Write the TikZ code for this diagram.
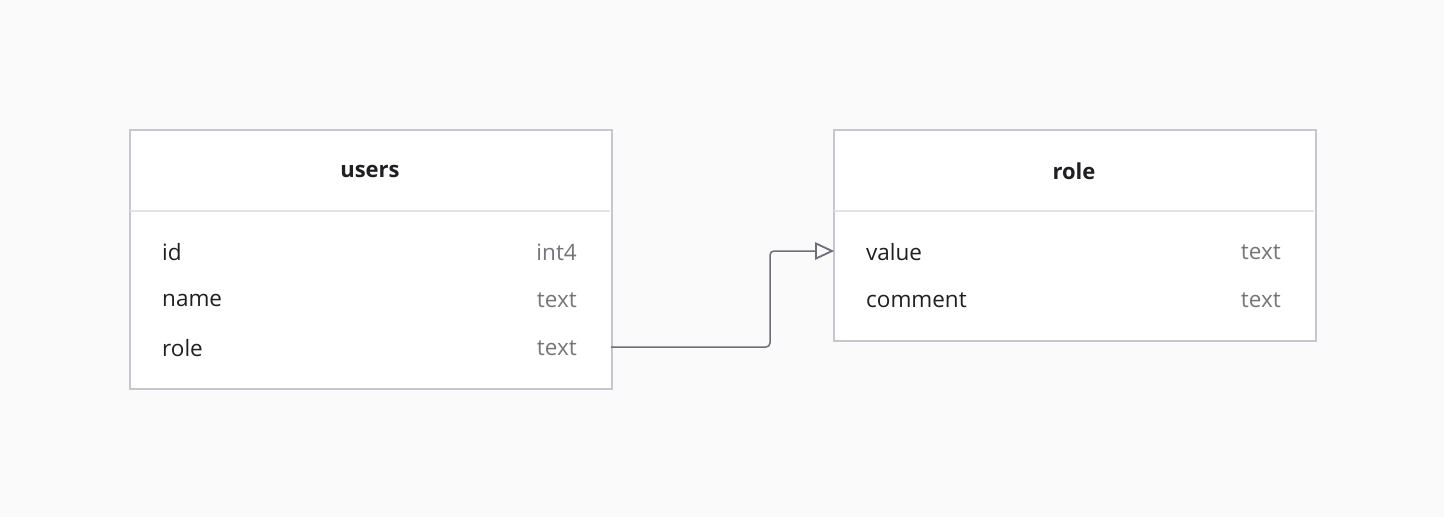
\documentclass[tikz,border=0pt]{standalone}
\usepackage{fontspec}
\setmainfont{Open Sans}
\usetikzlibrary{arrows.meta,calc}
\definecolor{bg}{HTML}{FAFAFA}
\definecolor{bordc}{HTML}{C6C6CE}
\definecolor{divc}{HTML}{E2E2E8}
\definecolor{txt}{HTML}{1F1F24}
\definecolor{typec}{HTML}{75757E}
\definecolor{linec}{HTML}{6E6E78}
\begin{document}
\begin{tikzpicture}[x=1pt,y=-1pt,
  tbl/.style={draw=bordc,line width=1.5pt,fill=white},
  divl/.style={draw=divc,line width=1.2pt},
  title/.style={font=\fontsize{22}{26}\selectfont\bfseries,text=txt,inner sep=0},
  fld/.style={font=\fontsize{22.5}{26}\selectfont,text=txt,anchor=west,inner sep=0},
  typ/.style={font=\fontsize{22.5}{26}\selectfont,text=typec,anchor=east,inner sep=0},
  conn/.style={draw=linec,line width=1.5pt,rounded corners=4pt},
  head/.style={draw=linec,line width=1.8pt,fill=bg,line join=miter}]
\fill[bg] (0,0) rectangle (1444,517);
\useasboundingbox (0,0) rectangle (1444,517);
% users table
\node[tbl,minimum width=482pt,minimum height=259pt,anchor=north west,inner sep=0] (users) at (129,129) {};
\draw[divl] (130,211) -- (610,211);
\node[title] (usersT) at (370,171) {users};
\node[fld] (uid) at (162,252) {id};
\node[typ] (uidt) at (577,252) {int4};
\node[fld] (uname) at (162,300) {name};
\node[typ] (unamet) at (577,300) {text};
\node[fld] (urole) at (162,348) {role};
\node[typ] (uroket) at (577,348) {text};
% role table
\node[tbl,minimum width=482pt,minimum height=211pt,anchor=north west,inner sep=0] (role) at (833,129) {};
\draw[divl] (834,211) -- (1314,211);
\node[title] (roleT) at (1074,171) {role};
\node[fld] (rval) at (866,252) {value};
\node[typ] (rvalt) at (1281,252) {text};
\node[fld] (rcom) at (866,300) {comment};
\node[typ] (rcomt) at (1281,300) {text};
% connector
\coordinate (s) at (611,347);
\coordinate (e) at (832,251);
\coordinate (b) at (816,251);
\draw[conn] (s) -- (770,347) -- (770,251) -- (b);
\draw[head] (e) -- ($(b)+(0,-7.5)$) -- ($(b)+(0,7.5)$) -- cycle;
\end{tikzpicture}
\end{document}
